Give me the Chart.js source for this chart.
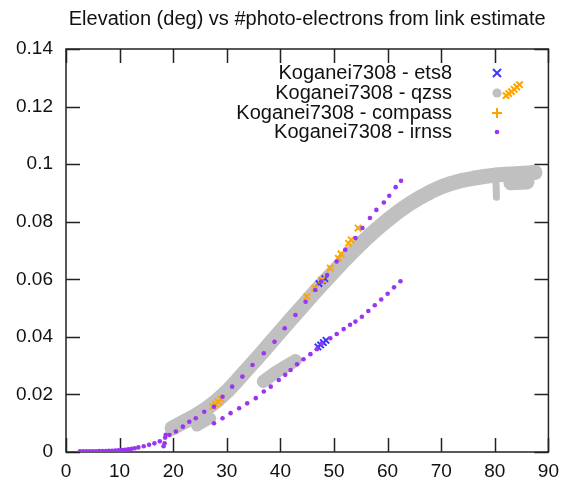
<!DOCTYPE html>
<html>
<head>
<meta charset="utf-8">
<script src="https://cdn.jsdelivr.net/npm/chart.js@4"></script>
<style>
  body { margin: 0; background: #fff; }
</style>
</head>
<body>
<canvas id="chart" width="567" height="486"></canvas>
<script>
const chartTitle = 'Elevation (deg) vs #photo-electrons from link estimate';
const seriesLabels = ['Koganei7308 - ets8', 'Koganei7308 - qzss', 'Koganei7308 - compass', 'Koganei7308 - irnss'];

// ets8 (blue x)
const ets8 = [
  {x: 47.0, y: 0.0365}, {x: 47.5, y: 0.0372}, {x: 48.0, y: 0.0380}, {x: 48.5, y: 0.0388},
  {x: 47.2, y: 0.0585}, {x: 47.8, y: 0.0595}, {x: 48.3, y: 0.0602}
];

// qzss main band (gray)
const qzssBand = [
  {x: 19.8, y: 0.0083}, {x: 22, y: 0.0105}, {x: 24, y: 0.0125}, {x: 26, y: 0.0148},
  {x: 28, y: 0.0176}, {x: 30, y: 0.021}, {x: 32, y: 0.025}, {x: 34, y: 0.0292},
  {x: 36, y: 0.0333}, {x: 38, y: 0.0376}, {x: 40, y: 0.0419}, {x: 42, y: 0.0462},
  {x: 44, y: 0.0504}, {x: 46, y: 0.0546}, {x: 48, y: 0.0587}, {x: 50, y: 0.0627},
  {x: 52, y: 0.0667}, {x: 54, y: 0.0705}, {x: 56, y: 0.0741}, {x: 58, y: 0.0775},
  {x: 60, y: 0.0806}, {x: 62, y: 0.0835}, {x: 64, y: 0.0861}, {x: 66, y: 0.0884},
  {x: 68, y: 0.0904}, {x: 70, y: 0.0921}, {x: 72, y: 0.0934}, {x: 74, y: 0.0944},
  {x: 76, y: 0.0951}, {x: 78, y: 0.0957}, {x: 80, y: 0.0962}, {x: 82, y: 0.0965},
  {x: 84, y: 0.0967}, {x: 86, y: 0.0969}, {x: 87.5, y: 0.0971}
];
// qzss smaller pieces
const qzssLowA = [{x: 24.4, y: 0.0090}, {x: 27.0, y: 0.0117}];
const qzssLowB = [{x: 36.8, y: 0.0245}, {x: 39, y: 0.0275}, {x: 41, y: 0.0298}, {x: 42.8, y: 0.0318}];
const qzssDrip = [{x: 80.2, y: 0.0945}, {x: 80.3, y: 0.0885}];
const qzssChunk = [{x: 83.0, y: 0.0935}, {x: 86.0, y: 0.0938}];

// compass (orange)
const compass = [
  {x: 27.4, y: 0.0158}, {x: 27.9, y: 0.0166}, {x: 28.4, y: 0.0174}, {x: 28.9, y: 0.0184},
  {x: 44.95, y: 0.054}, {x: 46.4, y: 0.0569}, {x: 47.7, y: 0.0598}, {x: 49.3, y: 0.0639},
  {x: 50.8, y: 0.0673}, {x: 51.3, y: 0.0688}, {x: 52.7, y: 0.0725}, {x: 53.2, y: 0.0737},
  {x: 54.5, y: 0.0778},
  {x: 82.1, y: 0.1238}, {x: 82.6, y: 0.1245}, {x: 83.1, y: 0.1252}, {x: 83.6, y: 0.126},
  {x: 84.1, y: 0.1268}, {x: 84.6, y: 0.1276}
];

// irnss (purple dots)
const irnssUpper = [
  {x: 2.6, y: 0.0002}, {x: 3.2, y: 0.0002}, {x: 3.8, y: 0.0002}, {x: 4.4, y: 0.0002},
  {x: 5.0, y: 0.0002}, {x: 5.6, y: 0.0002}, {x: 6.2, y: 0.0003}, {x: 6.8, y: 0.0003},
  {x: 7.4, y: 0.0003}, {x: 8.0, y: 0.0004}, {x: 8.6, y: 0.0004}, {x: 9.2, y: 0.0005},
  {x: 9.8, y: 0.0006}, {x: 10.4, y: 0.0007}, {x: 11.0, y: 0.0008}, {x: 11.6, y: 0.0009},
  {x: 12.2, y: 0.0011}, {x: 12.8, y: 0.0013}, {x: 13.5, y: 0.0016},
  {x: 14.5, y: 0.002}, {x: 15.5, y: 0.0025}, {x: 16.5, y: 0.003}, {x: 17.5, y: 0.0037},
  {x: 18.2, y: 0.002}, {x: 18.4, y: 0.003}, {x: 18.5, y: 0.005}, {x: 18.6, y: 0.006},
  {x: 19.3, y: 0.0059}, {x: 20.5, y: 0.0071}, {x: 21.8, y: 0.0088}, {x: 23.0, y: 0.0105},
  {x: 24.2, y: 0.0117}, {x: 25.8, y: 0.014}, {x: 27.6, y: 0.0157}, {x: 29.2, y: 0.0192},
  {x: 31.0, y: 0.0227}, {x: 32.9, y: 0.0262}, {x: 34.8, y: 0.0302}, {x: 36.9, y: 0.0343},
  {x: 38.9, y: 0.0383}, {x: 40.8, y: 0.043}, {x: 42.8, y: 0.0476}, {x: 44.7, y: 0.0522},
  {x: 46.5, y: 0.0563}, {x: 47.6, y: 0.0592}, {x: 48.7, y: 0.0615}, {x: 50.5, y: 0.0662},
  {x: 52.1, y: 0.0703}, {x: 54.0, y: 0.0743}, {x: 55.3, y: 0.0778}, {x: 56.7, y: 0.0813},
  {x: 57.9, y: 0.0841}, {x: 59.3, y: 0.0867}, {x: 60.3, y: 0.089}, {x: 61.5, y: 0.092},
  {x: 62.5, y: 0.0942}
];
const irnssLower = [
  {x: 27.6, y: 0.010}, {x: 29.2, y: 0.0117}, {x: 30.7, y: 0.0135}, {x: 32.3, y: 0.0152},
  {x: 33.8, y: 0.0169}, {x: 35.4, y: 0.0187}, {x: 36.9, y: 0.021}, {x: 38.2, y: 0.0227},
  {x: 39.7, y: 0.025}, {x: 40.9, y: 0.0268}, {x: 41.9, y: 0.0285}, {x: 43.1, y: 0.0305},
  {x: 44.3, y: 0.0322}, {x: 45.6, y: 0.034}, {x: 46.8, y: 0.0357}, {x: 47.7, y: 0.0376},
  {x: 49.3, y: 0.0395}, {x: 50.5, y: 0.041}, {x: 51.8, y: 0.0427}, {x: 53.0, y: 0.0442},
  {x: 54.0, y: 0.0453}, {x: 55.2, y: 0.047}, {x: 56.4, y: 0.049}, {x: 57.6, y: 0.051},
  {x: 58.8, y: 0.053}, {x: 60.0, y: 0.055}, {x: 61.2, y: 0.0572}, {x: 62.4, y: 0.0593}
];

const FONT = '"Liberation Sans", Arial, sans-serif';
const BLUE = '#3a3aff', GRAY = '#c0c0c0', ORANGE = '#ffa500', PURPLE = '#9a35f0';

function band(data, w) {
  return {
    data: data, showLine: true, borderColor: GRAY, borderWidth: w || 15,
    borderCapStyle: 'round', borderJoinStyle: 'round', pointRadius: 0, order: 3
  };
}

// frame + inward tics, gnuplot style
const framePlugin = {
  id: 'frame',
  beforeDatasetsDraw(chart) {
    const {ctx, chartArea: a, scales: {x, y}} = chart;
    const len = 14;
    ctx.save();
    ctx.strokeStyle = '#222';
    ctx.lineWidth = 1.5;
    ctx.beginPath();
    x.ticks.forEach(t => {
      const px = Math.round(x.getPixelForValue(t.value)) + 0.5;
      ctx.moveTo(px, a.bottom); ctx.lineTo(px, a.bottom - len);
      ctx.moveTo(px, a.top); ctx.lineTo(px, a.top + len);
    });
    y.ticks.forEach(t => {
      const py = Math.round(y.getPixelForValue(t.value)) + 0.5;
      ctx.moveTo(a.left, py); ctx.lineTo(a.left + len, py);
      ctx.moveTo(a.right, py); ctx.lineTo(a.right - len, py);
    });
    ctx.stroke();
    ctx.strokeRect(a.left, a.top, a.right - a.left, a.bottom - a.top);
    ctx.restore();
  },
  afterDraw(chart) {
    const {ctx, chartArea: a} = chart;
    ctx.save();
    ctx.fillStyle = '#111';
    ctx.font = '20px ' + FONT;
    ctx.textAlign = 'center';
    ctx.textBaseline = 'middle';
    ctx.fillText(chartTitle, (a.left + a.right) / 2, 19);

    // key: right aligned text, sample on the right
    const rows = [73, 93, 113, 132];
    const tx = 452, sx = 497;
    ctx.textAlign = 'right';
    rows.forEach((ry, i) => {
      ctx.fillStyle = '#111';
      ctx.fillText(seriesLabels[i], tx, ry);
    });
    ctx.lineWidth = 2;
    ctx.strokeStyle = BLUE;
    ctx.beginPath();
    ctx.moveTo(sx - 4, rows[0] - 4); ctx.lineTo(sx + 4, rows[0] + 4);
    ctx.moveTo(sx + 4, rows[0] - 4); ctx.lineTo(sx - 4, rows[0] + 4);
    ctx.stroke();
    ctx.fillStyle = GRAY;
    ctx.beginPath(); ctx.arc(sx, rows[1], 4.5, 0, Math.PI * 2); ctx.fill();
    ctx.strokeStyle = ORANGE;
    ctx.beginPath();
    ctx.moveTo(sx - 5, rows[2]); ctx.lineTo(sx + 5, rows[2]);
    ctx.moveTo(sx, rows[2] - 5); ctx.lineTo(sx, rows[2] + 5);
    ctx.stroke();
    ctx.fillStyle = PURPLE;
    ctx.beginPath(); ctx.arc(sx, rows[3], 2.3, 0, Math.PI * 2); ctx.fill();
    ctx.restore();
  }
};

const config = {
  type: 'scatter',
  data: {
    datasets: [
      {label: seriesLabels[0], data: ets8, pointStyle: 'crossRot', pointRadius: 4.5,
        borderColor: BLUE, borderWidth: 2, order: 2},
      Object.assign(band(qzssBand), {label: seriesLabels[1]}),
      band(qzssLowA, 11), band(qzssLowB, 13),
      band(qzssDrip, 7),
      band(qzssChunk, 15),
      {label: seriesLabels[2], data: compass, pointStyle: 'crossRot', pointRadius: 4.5,
        borderColor: ORANGE, borderWidth: 2, order: 1},
      {label: seriesLabels[3], data: irnssUpper, pointRadius: 2.3, borderWidth: 0,
        backgroundColor: PURPLE, order: 0},
      {data: irnssLower, pointRadius: 2.3, borderWidth: 0, backgroundColor: PURPLE, order: 0}
    ]
  },
  options: {
    responsive: false,
    animation: false,
    layout: {padding: {top: 49, right: 16, left: 0, bottom: 0}},
    plugins: {legend: {display: false}, tooltip: {enabled: false}},
    scales: {
      x: {
        min: 0, max: 90,
        ticks: {stepSize: 10, color: '#111', font: {size: 19, family: FONT}, padding: 8, maxRotation: 0},
        grid: {display: false, drawTicks: false},
        border: {display: false},
        afterFit(s) { s.height = 34; }
      },
      y: {
        min: 0, max: 0.14,
        ticks: {
          stepSize: 0.02, color: '#111', font: {size: 19, family: FONT}, padding: 13,
          callback: v => String(Number(v.toFixed(2)))
        },
        grid: {display: false, drawTicks: false},
        border: {display: false},
        afterFit(s) { s.width = 66; }
      }
    }
  },
  plugins: [framePlugin]
};

const chart = new Chart(document.getElementById('chart'), config);
</script>
</body>
</html>
